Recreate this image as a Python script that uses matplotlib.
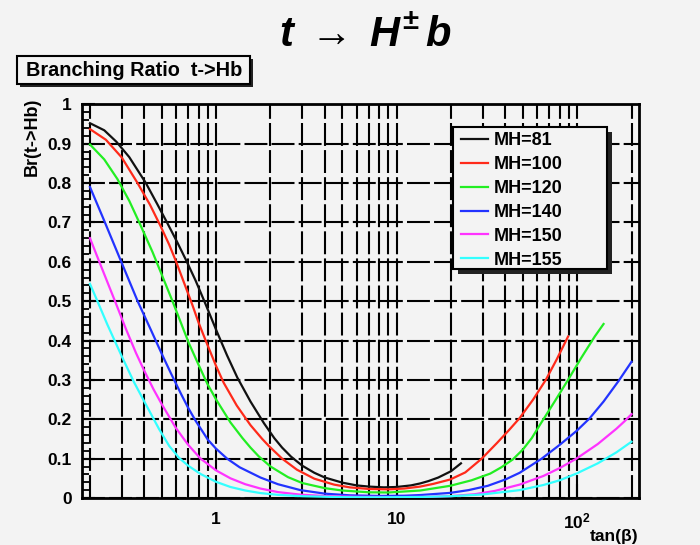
import matplotlib
matplotlib.use("Agg")
import matplotlib.pyplot as plt
from matplotlib.patches import Rectangle
from matplotlib.ticker import FixedLocator, FixedFormatter, NullFormatter, MultipleLocator

plt.rcParams['font.family'] = ['Liberation Sans', 'DejaVu Sans']
plt.rcParams['mathtext.fontset'] = 'custom'
plt.rcParams['mathtext.rm'] = 'Liberation Sans:bold'
plt.rcParams['mathtext.it'] = 'Liberation Sans:bold:italic'
plt.rcParams['mathtext.bf'] = 'Liberation Sans:bold'
plt.rcParams['mathtext.fallback'] = 'stixsans'

# ---------------- data ----------------
labels = ['MH=81', 'MH=100', 'MH=120', 'MH=140', 'MH=150', 'MH=155']
colors = ['#111111', '#ff2a1a', '#22ee22', '#2233ff', '#ff33ff', '#33ffff']

tanb_81 = [0.2, 0.24, 0.28, 0.33, 0.408, 0.47, 0.537, 0.61, 0.68, 0.77, 0.86, 1.015,
           1.15, 1.31, 1.55, 1.84, 2.1, 2.32, 2.6, 3.0, 3.5, 4.0, 5.0, 6.0, 7.0, 8.5,
           10, 12, 13.5, 15, 17, 20, 22.7]
br_81 = [0.952, 0.934, 0.905, 0.866, 0.80, 0.748, 0.698, 0.649, 0.605, 0.552, 0.50, 0.42,
         0.362, 0.306, 0.245, 0.19, 0.152, 0.128, 0.105, 0.082, 0.064, 0.052, 0.039, 0.032,
         0.029, 0.027, 0.028, 0.032, 0.037, 0.043, 0.052, 0.068, 0.088]

tanb_100 = [0.2, 0.245, 0.3, 0.367, 0.43, 0.493, 0.55, 0.597, 0.66, 0.739, 0.8, 0.875,
            1.0, 1.1, 1.3, 1.55, 1.8, 1.96, 2.32, 2.8, 3.5, 4.5, 5.5, 7, 9, 11, 13.5, 16,
            19.8, 24, 29.6, 36, 42, 48, 57, 67, 77, 89]
br_100 = [0.937, 0.91, 0.865, 0.80, 0.745, 0.69, 0.643, 0.603, 0.55, 0.49, 0.445, 0.40,
          0.335, 0.293, 0.235, 0.185, 0.15, 0.132, 0.10, 0.072, 0.049, 0.034, 0.027,
          0.023, 0.022, 0.024, 0.029, 0.036, 0.047, 0.065, 0.10, 0.14, 0.173, 0.203,
          0.25, 0.30, 0.352, 0.41]

tanb_120 = [0.2, 0.24, 0.284, 0.33, 0.375, 0.444, 0.5, 0.573, 0.638, 0.708, 0.8, 0.894,
            1.0, 1.2, 1.4, 1.55, 1.72, 2.0, 2.5, 3, 4, 5, 7, 9, 13.5, 19.8, 26, 33, 38,
            44, 50, 56, 62, 75, 89, 105, 125, 140]
br_120 = [0.898, 0.86, 0.81, 0.755, 0.70, 0.625, 0.567, 0.50, 0.445, 0.392, 0.338, 0.29,
          0.25, 0.192, 0.152, 0.128, 0.106, 0.08, 0.053, 0.038, 0.025, 0.019, 0.0145,
          0.014, 0.019, 0.031, 0.045, 0.062, 0.078, 0.098, 0.123, 0.152, 0.185, 0.245,
          0.30, 0.355, 0.41, 0.442]

tanb_140 = [0.2, 0.237, 0.295, 0.369, 0.435, 0.5, 0.56, 0.638, 0.7, 0.77, 0.9, 1.0,
            1.15, 1.35, 1.76, 2.2, 2.93, 4, 5.5, 8, 11, 13.5, 19.8, 25, 32, 40, 48,
            63.6, 80, 99, 117, 140, 170, 200]
br_140 = [0.79, 0.71, 0.605, 0.498, 0.427, 0.366, 0.318, 0.265, 0.229, 0.196, 0.148,
          0.125, 0.10, 0.078, 0.052, 0.035, 0.02, 0.011, 0.0068, 0.0052, 0.0058, 0.0075,
          0.013, 0.02, 0.031, 0.047, 0.064, 0.10, 0.135, 0.17, 0.202, 0.245, 0.298, 0.346]

tanb_150 = [0.2, 0.22, 0.25, 0.278, 0.316, 0.36, 0.4, 0.45, 0.5, 0.598, 0.7, 0.82, 1.0,
            1.2, 1.45, 1.76, 2.2, 2.93, 4, 6, 10, 15, 20, 27, 35, 48, 65, 80, 99, 130,
            165, 183, 200]
br_150 = [0.66, 0.612, 0.548, 0.495, 0.43, 0.368, 0.323, 0.276, 0.238, 0.178, 0.135,
          0.10, 0.07, 0.05, 0.035, 0.024, 0.015, 0.0085, 0.005, 0.003, 0.0022, 0.003,
          0.0048, 0.0095, 0.018, 0.034, 0.056, 0.076, 0.10, 0.137, 0.176, 0.195, 0.213]

tanb_155 = [0.2, 0.22, 0.25, 0.3, 0.35, 0.4, 0.483, 0.55, 0.623, 0.7, 0.82, 1.0, 1.2,
            1.45, 1.76, 2.2, 3, 5, 8, 13.5, 20, 30, 48, 65, 80, 99, 130, 165, 200]
br_155 = [0.544, 0.50, 0.44, 0.36, 0.295, 0.245, 0.175, 0.132, 0.102, 0.082, 0.061,
          0.041, 0.028, 0.019, 0.0125, 0.008, 0.0045, 0.0022, 0.0017, 0.0025, 0.0045,
          0.009, 0.02, 0.033, 0.045, 0.062, 0.088, 0.116, 0.143]

series = [(tanb_81, br_81), (tanb_100, br_100), (tanb_120, br_120),
          (tanb_140, br_140), (tanb_150, br_150), (tanb_155, br_155)]

x_major = [1, 10, 100]
x_major_labels = ['1', '10', r'$10^{2}$']
x_minor = [0.2, 0.3, 0.4, 0.5, 0.6, 0.7, 0.8, 0.9,
           2, 3, 4, 5, 6, 7, 8, 9,
           20, 30, 40, 50, 60, 70, 80, 90, 200]
y_ticks = [0, 0.1, 0.2, 0.3, 0.4, 0.5, 0.6, 0.7, 0.8, 0.9, 1.0]
y_tick_labels = ['0', '0.1', '0.2', '0.3', '0.4', '0.5', '0.6', '0.7', '0.8', '0.9', '1']

title_text = r'$t\;\rightarrow\;H^{\pm}\,b$'
header_text = 'Branching Ratio  t->Hb'
ylabel_text = 'Br(t->Hb)'
xlabel_text = 'tan(β)'

# ---------------- layout ----------------
W, H = 700, 545
BG = '#f3f3f3'


def fx(x):
    return x / W


def fy(y):
    return 1 - y / H


fig = plt.figure(figsize=(W / 100, H / 100), dpi=100, facecolor=BG)
ax_l, ax_r, ax_t, ax_b = 81.7, 639.0, 104.3, 498.0
ax = fig.add_axes([fx(ax_l), fy(ax_b), (ax_r - ax_l) / W, (ax_b - ax_t) / H])
ax.set_facecolor(BG)

lines = []
for (xs, ys), lab, col in zip(series, labels, colors):
    ln, = ax.plot(xs, ys, color=col, lw=1.6, label=lab, zorder=3,
                  solid_joinstyle='round')
    lines.append(ln)

ax.set_xscale('log')
ax.set_xlim(0.18, 220)
ax.set_ylim(0, 1)

ax.xaxis.set_major_locator(FixedLocator(x_major))
ax.xaxis.set_major_formatter(FixedFormatter(x_major_labels))
ax.xaxis.set_minor_locator(FixedLocator(x_minor))
ax.xaxis.set_minor_formatter(NullFormatter())
ax.yaxis.set_major_locator(FixedLocator(y_ticks))
ax.yaxis.set_major_formatter(FixedFormatter(y_tick_labels))
ax.yaxis.set_minor_locator(MultipleLocator(0.02))

gridstyle = dict(color='black', linestyle=(0, (11, 2)), linewidth=1.5)
ax.grid(True, which='major', axis='both', **gridstyle)
ax.grid(True, which='minor', axis='x', **gridstyle)
ax.set_axisbelow(True)

ax.tick_params(axis='both', which='both', direction='in', color='black')
ax.tick_params(axis='y', which='major', length=9, width=1.5, pad=7, labelsize=12.5)
ax.tick_params(axis='y', which='minor', length=5, width=1.3)
ax.tick_params(axis='x', which='major', length=10, width=1.5, pad=10, labelsize=12.5)
ax.tick_params(axis='x', which='minor', length=6, width=1.3)
for lab in ax.get_xticklabels() + ax.get_yticklabels():
    lab.set_fontweight('bold')
for sp in ax.spines.values():
    sp.set_linewidth(2)
    sp.set_color('black')

# ---------------- legend ----------------
lg_l, lg_t, lg_r, lg_b = 453, 127, 607, 269
sh = 5
fig.patches.append(Rectangle((fx(lg_l + sh), fy(lg_b + sh)), (lg_r - lg_l) / W,
                             (lg_b - lg_t) / H, transform=fig.transFigure,
                             facecolor='#222222', edgecolor='none', zorder=5))
fig.patches.append(Rectangle((fx(lg_l), fy(lg_b)), (lg_r - lg_l) / W, (lg_b - lg_t) / H,
                             transform=fig.transFigure, facecolor=BG,
                             edgecolor='black', lw=1.5, zorder=6))
leg = fig.legend(handles=lines, loc='upper left', bbox_to_anchor=(fx(461), fy(132)),
                 frameon=False, handlelength=1.5, handletextpad=0.3,
                 labelspacing=0.385, borderpad=0, borderaxespad=0,
                 prop={'weight': 'bold', 'size': 13})
leg.set_zorder(7)
for h in leg.legend_handles:
    h.set_linewidth(1.6)

# ---------------- header box ----------------
hb_l, hb_t, hb_r, hb_b = 16.7, 56, 250, 83.5
fig.patches.append(Rectangle((fx(hb_l + 3), fy(hb_b + 3)), (hb_r - hb_l) / W,
                             (hb_b - hb_t) / H, transform=fig.transFigure,
                             facecolor='#222222', edgecolor='none', zorder=5))
fig.patches.append(Rectangle((fx(hb_l), fy(hb_b)), (hb_r - hb_l) / W, (hb_b - hb_t) / H,
                             transform=fig.transFigure, facecolor=BG,
                             edgecolor='black', lw=1.5, zorder=6))
fig.text(fx(26), fy(70), header_text, ha='left', va='center', fontsize=14.3,
         fontweight='bold', zorder=7)

# ---------------- titles ----------------
fig.text(fx(366), fy(35), title_text, ha='center', va='center', fontsize=30)
fig.text(fx(32), fy(98), ylabel_text, ha='center', va='top', rotation=90,
         fontsize=13, fontweight='bold')
fig.text(fx(638), fy(536), xlabel_text, ha='right', va='center', fontsize=12.5,
         fontweight='bold')

fig.savefig('out.png', dpi=100, facecolor=BG)
